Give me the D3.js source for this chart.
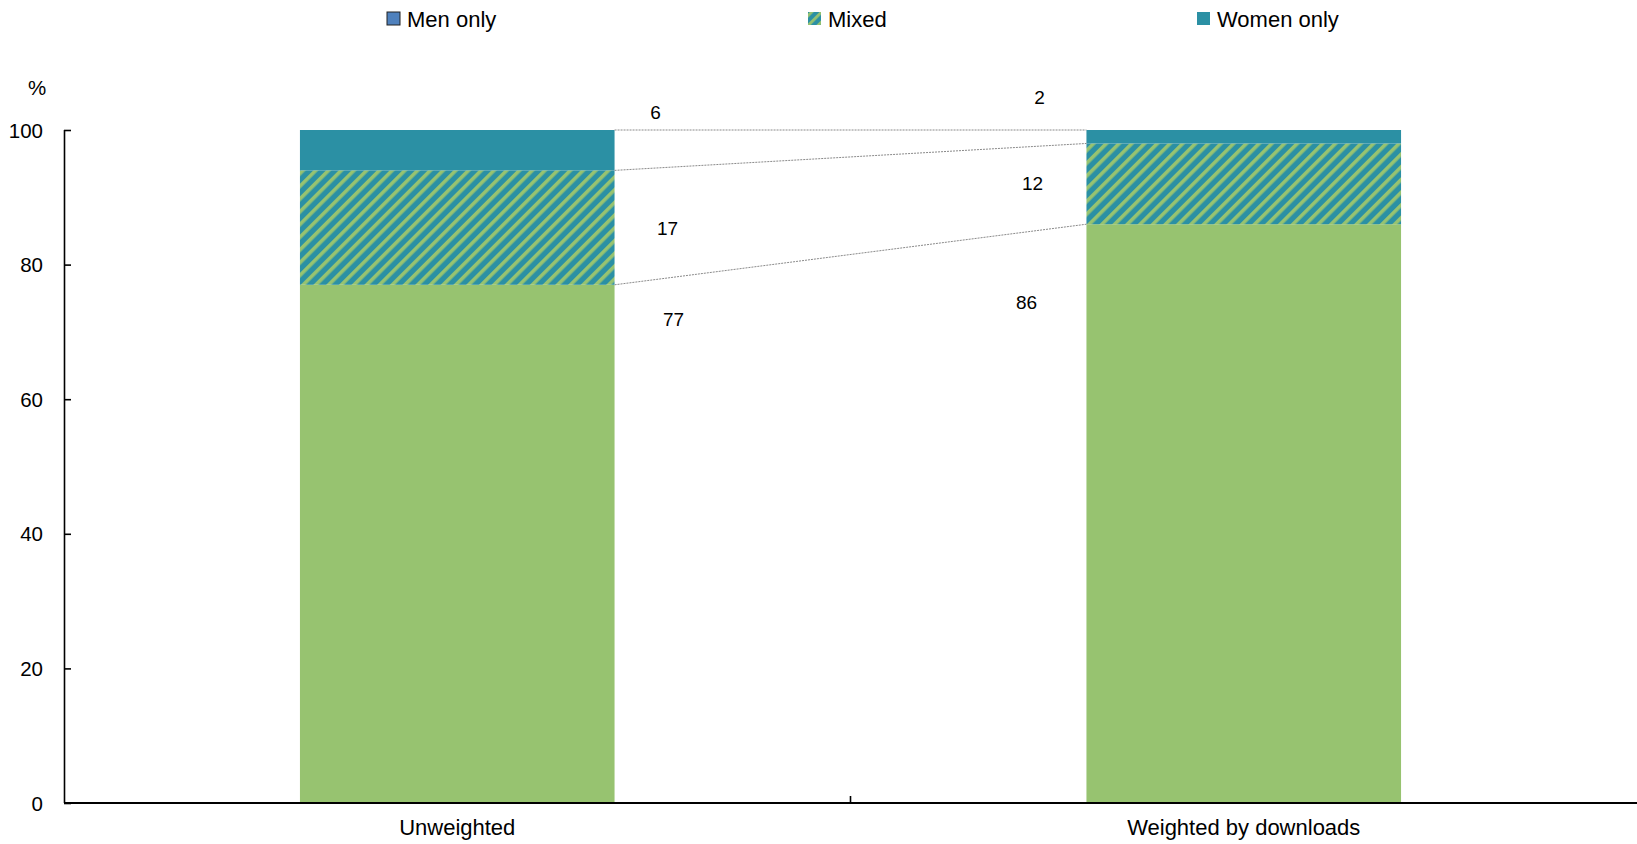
<!DOCTYPE html>
<html>
<head>
<meta charset="utf-8">
<script src="https://cdn.jsdelivr.net/npm/d3@7"></script>
<style>
  html, body { margin: 0; padding: 0; background: #fff; }
  svg { display: block; }
  text { font-family: "Liberation Sans", Arial, sans-serif; fill: #000; }
</style>
</head>
<body>
<svg id="chart" width="1637" height="844"></svg>
<script>
// ---- data ----
const categories = ["Unweighted", "Weighted by downloads"];
const seriesNames = ["Men only", "Mixed", "Women only"];
const menOnly = [77, 86];
const mixed = [17, 12];
const womenOnly = [6, 2];
const yTicks = [0, 20, 40, 60, 80, 100];
const yUnit = "%";

// ---- style / layout ----
const W = 1637, H = 844;
const margin = { left: 64, right: 0, top: 130, bottom: 41 };
const colGreen = "#97c370";
const colTeal = "#2b90a4";
const colBlue = "#4f81bd";
const fontSize = 20.5;
const bigFont = 22;
// label nudges (px) relative to bar edge / segment anchor
const labelNudge = [
  [{ dx: 59, dy: 35 }, { dx: 53, dy: 1 }, { dx: 41, dy: -18 }],
  [{ dx: -60, dy: 78 }, { dx: -54, dy: 0 }, { dx: -47, dy: -33 }]
];

const svg = d3.select("#chart");
const defs = svg.append("defs");
const pat = defs.append("pattern")
  .attr("id", "hatch")
  .attr("patternUnits", "userSpaceOnUse")
  .attr("width", 9).attr("height", 9)
  .attr("patternTransform", "rotate(45)");
pat.append("rect").attr("width", 9).attr("height", 9).attr("fill", colTeal);
pat.append("rect").attr("x", 0).attr("width", 3.6).attr("height", 9).attr("fill", colGreen);

const legendPat = defs.append("pattern")
  .attr("id", "hatchLegend")
  .attr("patternUnits", "userSpaceOnUse")
  .attr("width", 7).attr("height", 7)
  .attr("patternTransform", "rotate(45)");
legendPat.append("rect").attr("width", 7).attr("height", 7).attr("fill", colTeal);
legendPat.append("rect").attr("width", 2.8).attr("height", 7).attr("fill", colGreen);

const x = d3.scaleBand()
  .domain(categories)
  .range([margin.left, W - margin.right])
  .paddingInner(0.6)
  .paddingOuter(0.3);

const y = d3.scaleLinear()
  .domain([0, 100])
  .range([H - margin.bottom, margin.top]);

const table = categories.map((c, i) => ({ cat: c, men: menOnly[i], mixed: mixed[i], women: womenOnly[i] }));
const stack = d3.stack().keys(["men", "mixed", "women"])(table);
const fills = [colGreen, "url(#hatch)", colTeal];

// bars
const g = svg.append("g");
stack.forEach((layer, li) => {
  g.selectAll(null).data(layer).enter().append("rect")
    .attr("x", d => x(d.data.cat))
    .attr("width", x.bandwidth())
    .attr("y", d => y(d[1]))
    .attr("height", d => y(d[0]) - y(d[1]))
    .attr("fill", fills[li]);
});

// connector lines between bars at stack boundaries
const bounds = ["men", "mixed", "women"].map((k, li) => stack[li].map(d => d[1]));
bounds.forEach(b => {
  svg.append("line")
    .attr("x1", x(categories[0]) + x.bandwidth())
    .attr("x2", x(categories[1]))
    .attr("y1", y(b[0]))
    .attr("y2", y(b[1]))
    .attr("stroke", "#8a8a8a")
    .attr("stroke-width", 1)
    .attr("stroke-dasharray", "2,1");
});

// data labels
stack.forEach((layer, li) => {
  layer.forEach((d, ci) => {
    const n = labelNudge[ci][li];
    const edge = ci === 0 ? x(d.data.cat) + x.bandwidth() : x(d.data.cat);
    let anchorY;
    if (li === 1) anchorY = y((d[0] + d[1]) / 2);
    else anchorY = y(d[1]);
    svg.append("text")
      .attr("x", edge + n.dx)
      .attr("y", anchorY + n.dy)
      .attr("text-anchor", "middle")
      .attr("dominant-baseline", "central")
      .style("font-size", "19px")
      .text(d[1] - d[0]);
  });
});

// y axis
const yAxis = d3.axisRight(y).tickValues(yTicks).tickSize(7).tickFormat("");
const ya = svg.append("g").attr("transform", `translate(${margin.left},0)`).call(yAxis);
ya.select(".domain").attr("stroke", "#000").attr("stroke-width", 1.6).attr("d", `M0.5,${y(100)}V${y(0)}`);
ya.selectAll(".tick line").attr("stroke", "#000").attr("stroke-width", 1.6);
svg.append("g").selectAll("text").data(yTicks).enter().append("text")
  .attr("x", 43)
  .attr("y", d => y(d))
  .attr("text-anchor", "end")
  .attr("dominant-baseline", "central")
  .style("font-size", fontSize + "px")
  .text(d => d);
svg.append("text")
  .attr("x", 37).attr("y", 87)
  .attr("text-anchor", "middle")
  .attr("dominant-baseline", "central")
  .style("font-size", fontSize + "px")
  .text(yUnit);

// x axis
const xa = svg.append("g").attr("transform", `translate(0,${y(0)})`);
xa.append("line")
  .attr("x1", margin.left).attr("x2", W)
  .attr("y1", 0).attr("y2", 0)
  .attr("stroke", "#000").attr("stroke-width", 2);
// separator tick between categories
const sepX = (x(categories[0]) + x.bandwidth() + x(categories[1])) / 2;
xa.append("line")
  .attr("x1", sepX).attr("x2", sepX)
  .attr("y1", 0).attr("y2", -7)
  .attr("stroke", "#000").attr("stroke-width", 1.6);
xa.selectAll("text.cat").data(categories).enter().append("text")
  .attr("class", "cat")
  .attr("x", d => x(d) + x.bandwidth() / 2)
  .attr("y", 24)
  .attr("text-anchor", "middle")
  .attr("dominant-baseline", "central")
  .style("font-size", bigFont + "px")
  .text(d => d);

// legend
const legendX = [387, 808, 1197];
const legendFill = [colBlue, "url(#hatchLegend)", colTeal];
const lg = svg.append("g");
seriesNames.forEach((name, i) => {
  lg.append("rect")
    .attr("x", legendX[i]).attr("y", 12)
    .attr("width", 13).attr("height", 13)
    .attr("fill", legendFill[i])
    .attr("stroke", i === 0 ? "#222" : "none")
    .attr("stroke-width", 1);
  lg.append("text")
    .attr("x", legendX[i] + 20)
    .attr("y", 19)
    .attr("dominant-baseline", "central")
    .style("font-size", bigFont + "px")
    .text(name);
});
</script>
</body>
</html>
